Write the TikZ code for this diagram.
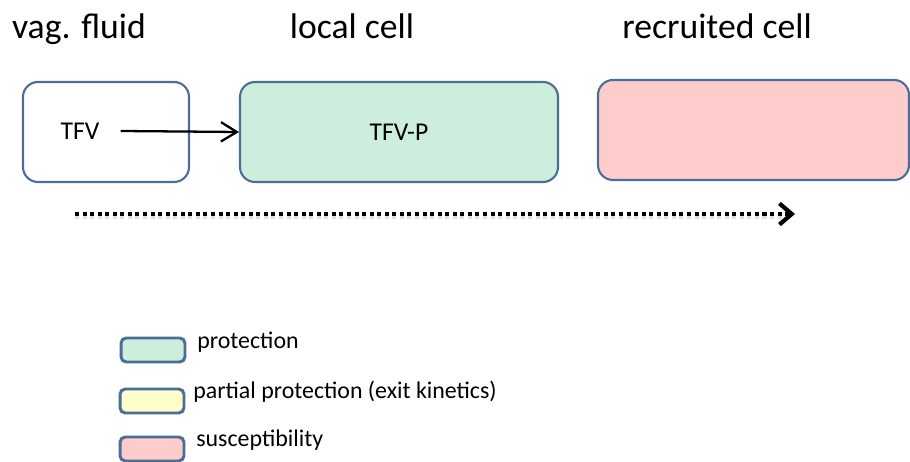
\documentclass[tikz,border=0pt]{standalone}
\usepackage{fontspec}
\setmainfont{Carlito}
\usetikzlibrary{arrows.meta}
\definecolor{boxblue}{RGB}{74,109,154}
\definecolor{protgreen}{RGB}{205,238,221}
\definecolor{partyellow}{RGB}{255,255,204}
\definecolor{suscpink}{RGB}{255,204,204}
\tikzstyle{compartment} = [rectangle, rounded corners=8.5pt, minimum height=2cm, draw=boxblue, line width=1.2pt, font=\fontsize{14.6}{17}\selectfont]
\tikzstyle{key} = [rectangle, rounded corners=3pt, minimum width=1.28cm, minimum height=0.48cm, draw=boxblue, line width=1.7pt]
\tikzstyle{title} = [anchor=base, inner sep=0pt, font=\fontsize{20.3}{24}\selectfont]
\tikzstyle{keytext} = [anchor=west, inner sep=0pt, font=\fontsize{13.6}{16}\selectfont]
\tikzstyle{arrow} = [line width=1.3pt,-{Straight Barb[length=9pt,width=11pt,sep=0pt]}]
\tikzstyle{timeline} = [line width=2.6pt, dash pattern=on 2.3pt off 2pt]

\begin{document}
\begin{tikzpicture}[x=0.02cm, y=-0.02cm]
\useasboundingbox (0,0) rectangle (910,462);

% compartments
\node (vag)[compartment, minimum width=3.32cm] at (106,132) {};
\node (local)[compartment, minimum width=6.36cm, fill=protgreen] at (399,132) {TFV-P};
\node (recruit)[compartment, minimum width=6.22cm, fill=suscpink] at (753.5,130) {};
\node (tfv) at (80,131) [font=\fontsize{14.6}{17}\selectfont] {TFV};

\node (t1)[title] at (79,39) {vag. fluid};
\node (t2)[title] at (352,39) {local cell};
\node (t3)[title] at (717,39) {recruited cell};

\draw [arrow] ([xshift=0.3cm]tfv.east) -- (local.west);

% time line
\coordinate (tstart) at (75,214);
\coordinate (tend) at (795,214);
\draw [timeline, gray!25] ([yshift=-1.7pt]tstart) -- ([yshift=-1.7pt,xshift=-7pt]tend);
\draw [timeline, -{Straight Barb[length=7pt,width=12pt,line width=2.4pt,sep=0pt]}] (tstart) -- (tend);

% legend
\node (k1)[key, fill=protgreen] at (153,350) {};
\node (k2)[key, fill=partyellow] at (152,401) {};
\node (k3)[key, fill=suscpink] at (152,449) {};
\node (l1)[keytext] at (197,342) {protection};
\node (l2)[keytext] at (193,392) {partial protection (exit kinetics)};
\node (l3)[keytext] at (196,440) {susceptibility};

\end{tikzpicture}
\end{document}
